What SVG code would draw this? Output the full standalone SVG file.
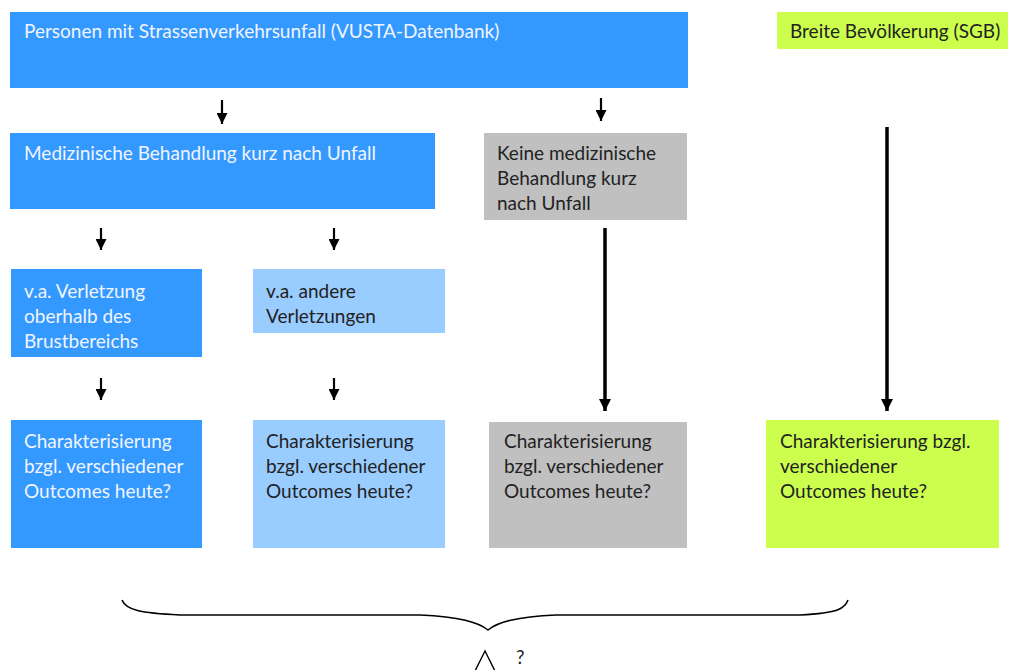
<svg xmlns="http://www.w3.org/2000/svg" width="1011" height="670" viewBox="0 0 1011 670">
<defs>
<style>
.t{font-family:Lato,"Open Sans","Liberation Sans",sans-serif;font-size:19px;}
.w{fill:#F2F4FF;}
.d{fill:#222222;}
.blue{fill:#3399FF;}
.lblue{fill:#99CCFF;}
.grey{fill:#C0C0C0;}
.green{fill:#CCFF4D;}
.a{stroke:#000;stroke-width:2.2;fill:none;}
.al{stroke:#000;stroke-width:3.5;fill:none;}
</style>
<marker id="h" viewBox="0 0 10 10" refX="10" refY="5" markerWidth="11" markerHeight="11" markerUnits="userSpaceOnUse" orient="auto">
<path d="M0,0 L10,5 L0,10 Z" fill="#000"/>
</marker>
<marker id="hl" viewBox="0 0 10 10" refX="10" refY="5" markerWidth="12" markerHeight="12" markerUnits="userSpaceOnUse" orient="auto">
<path d="M0,0 L10,5 L0,10 Z" fill="#000"/>
</marker>
</defs>
<rect width="1011" height="670" fill="#fff"/>
<g id="n-vusta"><rect class="blue" x="10" y="12" width="678" height="76"/><text class="t w" x="24" y="38">Personen mit Strassenverkehrsunfall (VUSTA-Datenbank)</text></g>
<g id="n-sgb"><rect class="green" x="777" y="12" width="231" height="37"/><text class="t d" x="790" y="38">Breite Bevölkerung (SGB)</text></g>
<g id="n-med"><rect class="blue" x="10" y="133" width="425" height="76"/><text class="t w" x="24" y="160">Medizinische Behandlung kurz nach Unfall</text></g>
<g id="n-keine"><rect class="grey" x="484" y="133" width="203" height="87"/><text class="t d" x="497" y="160"><tspan x="497">Keine medizinische</tspan><tspan x="497" dy="25">Behandlung kurz</tspan><tspan x="497" dy="25">nach Unfall</tspan></text></g>
<g id="n-brust"><rect class="blue" x="11" y="269" width="191" height="88"/><text class="t w" x="24" y="298"><tspan x="24">v.a. Verletzung</tspan><tspan x="24" dy="25">oberhalb des</tspan><tspan x="24" dy="25">Brustbereichs</tspan></text></g>
<g id="n-andere"><rect class="lblue" x="253" y="269" width="192" height="64"/><text class="t d" x="266" y="298"><tspan x="266">v.a. andere</tspan><tspan x="266" dy="25">Verletzungen</tspan></text></g>
<g id="n-out1"><rect class="blue" x="11" y="420" width="191" height="128"/><text class="t w" x="24" y="448"><tspan x="24">Charakterisierung</tspan><tspan x="24" dy="25">bzgl. verschiedener</tspan><tspan x="24" dy="25">Outcomes heute?</tspan></text></g>
<g id="n-out2"><rect class="lblue" x="253" y="420" width="192" height="128"/><text class="t d" x="266" y="448"><tspan x="266">Charakterisierung</tspan><tspan x="266" dy="25">bzgl. verschiedener</tspan><tspan x="266" dy="25">Outcomes heute?</tspan></text></g>
<g id="n-out3"><rect class="grey" x="489" y="422" width="198" height="126"/><text class="t d" x="504" y="448"><tspan x="504">Charakterisierung</tspan><tspan x="504" dy="25">bzgl. verschiedener</tspan><tspan x="504" dy="25">Outcomes heute?</tspan></text></g>
<g id="n-out4"><rect class="green" x="766" y="420" width="233" height="128"/><text class="t d" x="780" y="448"><tspan x="780">Charakterisierung bzgl.</tspan><tspan x="780" dy="25">verschiedener</tspan><tspan x="780" dy="25">Outcomes heute?</tspan></text></g>
<g id="connectors">
<line class="a" x1="222" y1="100" x2="222" y2="124" marker-end="url(#h)"/>
<line class="a" x1="601" y1="98" x2="601" y2="121" marker-end="url(#h)"/>
<line class="a" x1="101" y1="228" x2="101" y2="250" marker-end="url(#h)"/>
<line class="a" x1="334" y1="228" x2="334" y2="250" marker-end="url(#h)"/>
<line class="a" x1="101" y1="378" x2="101" y2="400" marker-end="url(#h)"/>
<line class="a" x1="334" y1="378" x2="334" y2="400" marker-end="url(#h)"/>
<line class="al" x1="605" y1="228" x2="605" y2="411" marker-end="url(#hl)"/>
<line class="al" x1="887" y1="127" x2="887" y2="411" marker-end="url(#hl)"/>
<path id="brace" d="M122,600 C126,610 140,613 180,615 L420,615 C460,617 478,622 488,630 C498,622 516,617 556,615 L800,615 C840,613 845,608 848,600" stroke="#000" stroke-width="1.6" fill="none"/>
<path d="M475,671 L485,651 L495,671" stroke="#000" stroke-width="1.4" fill="none"/>
</g>
<text class="t d" x="516" y="664">?</text>
</svg>
